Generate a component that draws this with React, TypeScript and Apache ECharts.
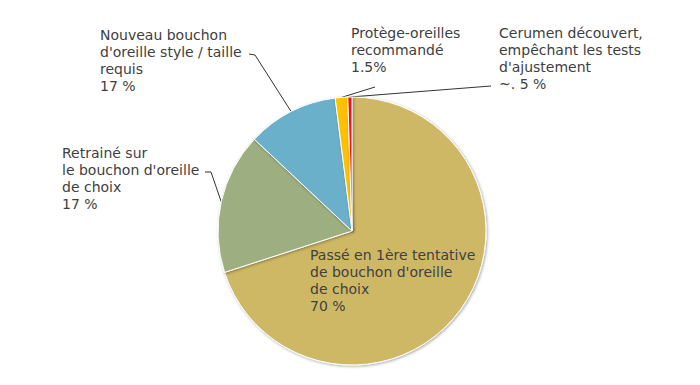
import React, { useEffect, useRef } from "react";
import * as echarts from "echarts";

const categories = [
  "Passé en 1ère tentative\nde bouchon d'oreille\nde choix",
  "Retrainé sur\nle bouchon d'oreille\nde choix",
  "Nouveau bouchon\nd'oreille style / taille\nrequis",
  "Protège-oreilles\nrecommandé",
  "Cerumen découvert,\nempêchant les tests\nd'ajustement",
];
const values = [70, 17, 11, 1.5, 0.5];
const valueLabels = ["70 %", "17 %", "17 %", "1.5%", "~. 5 %"];
const colors = ["#CEB866", "#9DAF80", "#6AB0CB", "#FFC000", "#E8141A"];

// label block top-left positions and leader-line bend/end points (layout only)
const labelPos = [
  [310, 246],
  [62, 144],
  [100, 26],
  [351, 24],
  [499, 24],
];
const linePts: (number[][] | null)[] = [
  null,
  [[211, 172], [205, 172]],
  [[255, 55], [249, 54]],
  [[375, 87], [375, 87]],
  [[491, 86], [491, 86]],
];

export default function App() {
  const ref = useRef<HTMLDivElement>(null);
  useEffect(() => {
    document.body.style.margin = "0";
    const chart = echarts.init(ref.current!, null, { renderer: "svg" });
    chart.setOption({
      animation: false,
      series: [
        {
          type: "pie",
          center: [352, 231],
          radius: 134,
          startAngle: 90,
          clockwise: true,
          avoidLabelOverlap: false,
          data: values.map((v, i) => ({
            value: v,
            name: categories[i],
            itemStyle: { color: colors[i] },
            labelLine: { show: i !== 0 },
          })),
          itemStyle: {
            borderColor: "#ffffff",
            borderWidth: 1,
            shadowBlur: 3,
            shadowColor: "rgba(0,0,0,0.35)",
            shadowOffsetX: 1,
            shadowOffsetY: 1,
          },
          label: {
            show: true,
            position: "outside",
            formatter: (p: any) => p.name + "\n" + valueLabels[p.dataIndex],
            fontFamily: "DejaVu Sans",
            fontSize: 14,
            lineHeight: 17,
            color: "#404040",
            align: "left",
          },
          labelLine: {
            show: true,
            lineStyle: { color: "#333333", width: 1 },
          },
          labelLayout: (params: any) => {
            const i = params.dataIndex;
            const res: any = {
              x: labelPos[i][0],
              y: labelPos[i][1],
              align: "left",
              verticalAlign: "top",
            };
            if (linePts[i] && params.labelLinePoints) {
              res.labelLinePoints = [
                params.labelLinePoints[0],
                linePts[i]![0],
                linePts[i]![1],
              ];
            }
            return res;
          },
        },
      ],
    });
    return () => chart.dispose();
  }, []);
  return <div ref={ref} style={{ width: 700, height: 385 }} />;
}
